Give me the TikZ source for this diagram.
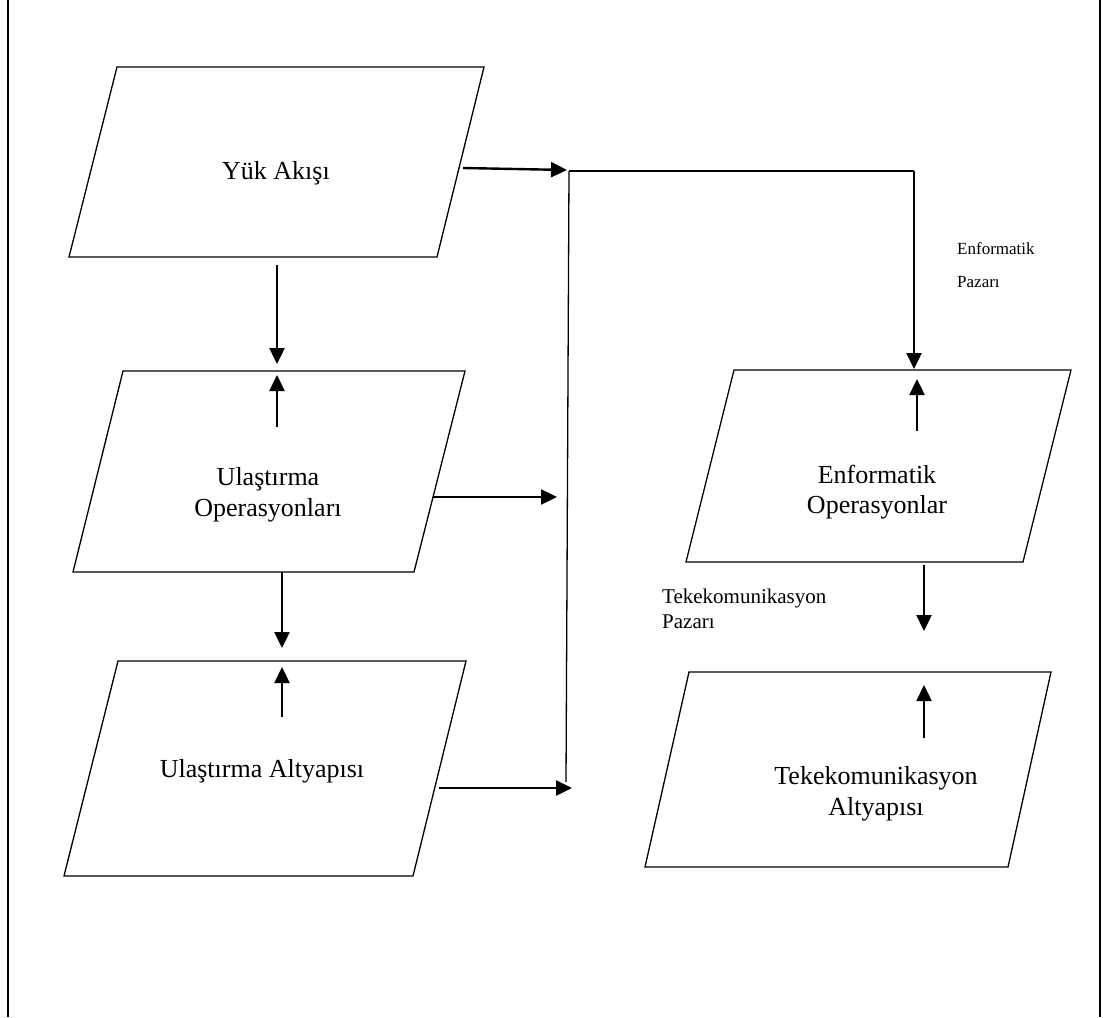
\documentclass[tikz,border=0pt]{standalone}
\usepackage{fontspec}
\setmainfont{Liberation Serif}
\usetikzlibrary{arrows.meta}
\begin{document}
\begin{tikzpicture}[x=1pt,y=-1pt,
  boxline/.style={line width=1.3pt,line join=miter},
  thinline/.style={line width=1.3pt},
  arr/.style={line width=2.4pt,-{Triangle[length=16pt,width=15pt]}},
  maintext/.style={inner sep=0pt,anchor=base,font=\fontsize{26}{31}\selectfont},
  lbl/.style={inner sep=0pt,anchor=base west},
  frameline/.style={line width=2pt}]
\useasboundingbox (0,0) rectangle (1105,1017);
% frame
\draw[frameline] (8,0) -- (8,1017);
\draw[frameline] (1100,0) -- (1100,1017);
% parallelograms
\draw[boxline] (117,67) -- (484,67) -- (437,257) -- (69,257) -- cycle;
\draw[boxline] (123,371) -- (465,371) -- (414,572) -- (73,572) -- cycle;
\draw[boxline] (118,661) -- (466,661) -- (413,876) -- (64,876) -- cycle;
\draw[boxline] (734,370) -- (1071,370) -- (1023,562) -- (686,562) -- cycle;
\draw[boxline] (689,672) -- (1051,672) -- (1008,867) -- (645,867) -- cycle;
% texts
\node[maintext] (yuk) at (276,179) {Yük Akışı};
\node[maintext] (uopa) at (268,485) {Ulaştırma};
\node[maintext] (uopb) at (268,516) {Operasyonları};
\node[maintext] (ualt) at (262,777) {Ulaştırma Altyapısı};
\node[maintext] (enfa) at (877,483) {Enformatik};
\node[maintext] (enfb) at (877,513) {Operasyonlar};
\node[maintext] (teka) at (876,784) {Tekekomunikasyon};
\node[maintext] (tekb) at (876,815) {Altyapısı};
\node[lbl,font=\fontsize{17}{20}\selectfont] (epa) at (957,254) {Enformatik};
\node[lbl,font=\fontsize{17}{20}\selectfont] (epb) at (957,287) {Pazarı};
\node[lbl,font=\fontsize{21}{25}\selectfont] (tpa) at (662,603) {Tekekomunikasyon};
\node[lbl,font=\fontsize{21}{25}\selectfont] (tpb) at (662,628) {Pazarı};
% connector coordinates
\coordinate (j1) at (569,171);
\coordinate (j2) at (566,782);
\coordinate (j3) at (914,171);
\coordinate (y1) at (463,168);
\coordinate (y2) at (567,170);
\coordinate (o1) at (433,497);
\coordinate (o2) at (557,497);
\coordinate (l1) at (439,788);
\coordinate (l2) at (572,788);
\coordinate (d1a) at (277,265);
\coordinate (d1b) at (277,364);
\coordinate (u1a) at (277,427);
\coordinate (u1b) at (277,375);
\coordinate (d2a) at (282,572);
\coordinate (d2b) at (282,648);
\coordinate (u2a) at (282,717);
\coordinate (u2b) at (282,667);
\coordinate (e1b) at (914,369);
\coordinate (eu1a) at (917,431);
\coordinate (eu1b) at (917,379);
\coordinate (ed1a) at (924,565);
\coordinate (ed1b) at (924,631);
\coordinate (tu1a) at (924,738);
\coordinate (tu1b) at (924,685);
% connectors
\draw[thinline] (j1) -- (j2);
\draw[thinline] (j1) -- (j3);
\draw[arr] (y1) -- (y2);
\draw[arr] (o1) -- (o2);
\draw[arr] (l1) -- (l2);
\draw[arr] (d1a) -- (d1b);
\draw[arr] (u1a) -- (u1b);
\draw[arr] (d2a) -- (d2b);
\draw[arr] (u2a) -- (u2b);
\draw[arr] (j3) -- (e1b);
\draw[arr] (eu1a) -- (eu1b);
\draw[arr] (ed1a) -- (ed1b);
\draw[arr] (tu1a) -- (tu1b);
\end{tikzpicture}
\end{document}
